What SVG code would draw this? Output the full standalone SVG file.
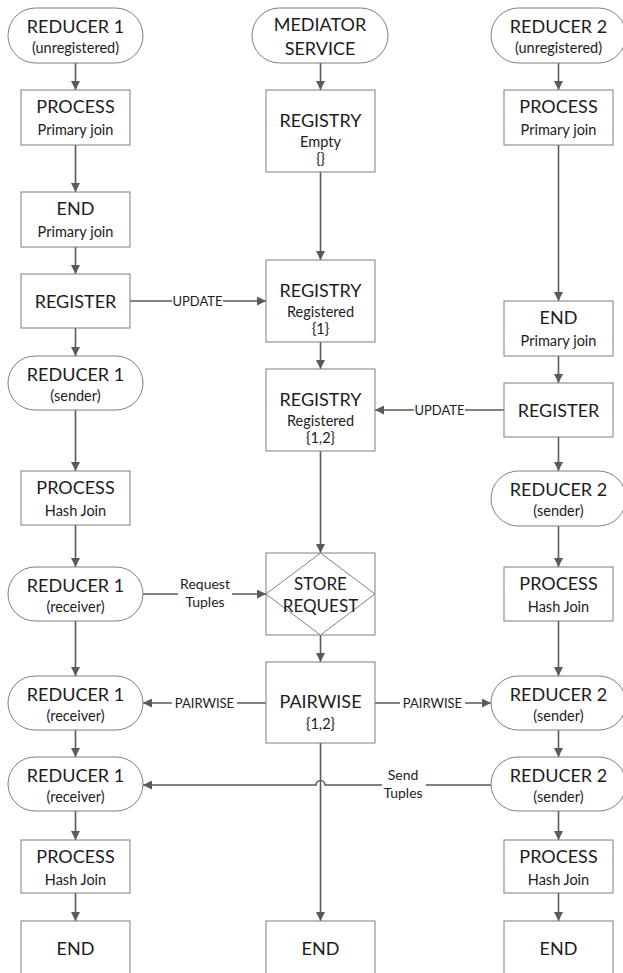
<svg xmlns="http://www.w3.org/2000/svg" width="623" height="973" viewBox="0 0 623 973">
  <defs>
    <marker id="arr" viewBox="0 0 10 10" refX="10" refY="5" markerWidth="9" markerHeight="9" markerUnits="userSpaceOnUse" orient="auto">
      <path d="M0,0 L10,5 L0,10 z" fill="#5a5a5a"/>
    </marker>
    <style>
      .box { fill: #ffffff; stroke: #7f7f7f; stroke-width: 1; }
      .t { font-family: Lato, "Open Sans", "DejaVu Sans", sans-serif; fill: #1c1c1c; text-anchor: middle; }
      .big { font-size: 18px; }
      .mid { font-size: 17px; }
      .sm { font-size: 14.5px; }
      .lbl { font-size: 13px; }
      .lbl2 { font-size: 14px; }
      .conn { fill: none; stroke: #5a5a5a; stroke-width: 1.6; marker-end: url(#arr); }
      .bg { fill: #ffffff; stroke: none; }
    </style>
  </defs>
  <rect x="0" y="0" width="623" height="973" fill="#ffffff"/>

  <!-- connectors -->
  <g id="connectors">
    <!-- reducer 1 column -->
    <path class="conn" d="M75.5,63 V90"/>
    <path class="conn" d="M75.5,145 V192"/>
    <path class="conn" d="M75.5,247 V274"/>
    <path class="conn" d="M75.5,328 V356"/>
    <path class="conn" d="M75.5,410 V471"/>
    <path class="conn" d="M75.5,525 V567"/>
    <path class="conn" d="M75.5,621 V676"/>
    <path class="conn" d="M75.5,730 V757"/>
    <path class="conn" d="M75.5,811 V840"/>
    <path class="conn" d="M75.5,893 V921"/>
    <!-- mediator column -->
    <path class="conn" d="M320.5,63 V90"/>
    <path class="conn" d="M320.5,172 V260"/>
    <path class="conn" d="M320.5,342 V369"/>
    <path class="conn" d="M320.5,451 V553"/>
    <path class="conn" d="M320.5,635 V662"/>
    <path class="conn" d="M320.5,743 V921"/>
    <!-- reducer 2 column -->
    <path class="conn" d="M558.5,63 V90"/>
    <path class="conn" d="M558.5,145 V301"/>
    <path class="conn" d="M558.5,356 V383"/>
    <path class="conn" d="M558.5,437 V471"/>
    <path class="conn" d="M558.5,526 V567"/>
    <path class="conn" d="M558.5,621 V676"/>
    <path class="conn" d="M558.5,730 V757"/>
    <path class="conn" d="M558.5,811 V840"/>
    <path class="conn" d="M558.5,893 V921"/>
    <!-- cross-column messages -->
    <path class="conn" d="M130,301 H266"/>
    <path class="conn" d="M504,410 H375"/>
    <path class="conn" d="M143,594 H266"/>
    <path class="conn" d="M266,703 H143"/>
    <path class="conn" d="M375,703 H491"/>
    <path class="conn" d="M491,785 H325 A4.5,4.5 0 0 0 316,785 H143"/>

    <!-- connector labels -->
    <rect class="bg" x="172" y="294" width="51" height="14"/>
    <text class="t lbl" x="197.5" y="306">UPDATE</text>
    <rect class="bg" x="414" y="403" width="51" height="14"/>
    <text class="t lbl" x="439.5" y="415">UPDATE</text>
    <rect class="bg" x="178" y="577" width="54" height="33"/>
    <text class="t lbl2" x="205" y="589">Request</text>
    <text class="t lbl2" x="205" y="607">Tuples</text>
    <rect class="bg" x="172" y="696" width="65" height="14"/>
    <text class="t lbl" x="204.5" y="708">PAIRWISE</text>
    <rect class="bg" x="400" y="696" width="65" height="14"/>
    <text class="t lbl" x="432.5" y="708">PAIRWISE</text>
    <rect class="bg" x="382" y="767" width="44" height="34"/>
    <text class="t lbl2" x="403" y="780">Send</text>
    <text class="t lbl2" x="403" y="798">Tuples</text>
  </g>

  <!-- reducer 1 -->
  <g id="r1-start">
    <rect class="box" x="8" y="8" width="135" height="55" rx="27.5" ry="27.5"/>
    <text class="t big" x="75.5" y="33">REDUCER 1</text>
    <text class="t sm" x="75.5" y="53">(unregistered)</text>
  </g>
  <g id="r1-process-primary">
    <rect class="box" x="21" y="90" width="109" height="55"/>
    <text class="t big" x="75.5" y="113">PROCESS</text>
    <text class="t sm" x="75.5" y="135">Primary join</text>
  </g>
  <g id="r1-end-primary">
    <rect class="box" x="21" y="192" width="109" height="55"/>
    <text class="t big" x="75.5" y="215">END</text>
    <text class="t sm" x="75.5" y="237">Primary join</text>
  </g>
  <g id="r1-register">
    <rect class="box" x="21" y="274" width="109" height="54"/>
    <text class="t big" x="75.5" y="308">REGISTER</text>
  </g>
  <g id="r1-sender">
    <rect class="box" x="8" y="356" width="135" height="54" rx="27" ry="27"/>
    <text class="t big" x="75.5" y="381">REDUCER 1</text>
    <text class="t sm" x="75.5" y="401">(sender)</text>
  </g>
  <g id="r1-process-hash-1">
    <rect class="box" x="21" y="471" width="109" height="54"/>
    <text class="t big" x="75.5" y="494">PROCESS</text>
    <text class="t sm" x="75.5" y="516">Hash Join</text>
  </g>
  <g id="r1-receiver-1">
    <rect class="box" x="8" y="567" width="135" height="54" rx="27" ry="27"/>
    <text class="t big" x="75.5" y="592">REDUCER 1</text>
    <text class="t sm" x="75.5" y="612">(receiver)</text>
  </g>
  <g id="r1-receiver-2">
    <rect class="box" x="8" y="676" width="135" height="54" rx="27" ry="27"/>
    <text class="t big" x="75.5" y="701">REDUCER 1</text>
    <text class="t sm" x="75.5" y="721">(receiver)</text>
  </g>
  <g id="r1-receiver-3">
    <rect class="box" x="8" y="757" width="135" height="54" rx="27" ry="27"/>
    <text class="t big" x="75.5" y="782">REDUCER 1</text>
    <text class="t sm" x="75.5" y="802">(receiver)</text>
  </g>
  <g id="r1-process-hash-2">
    <rect class="box" x="21" y="840" width="109" height="53"/>
    <text class="t big" x="75.5" y="863">PROCESS</text>
    <text class="t sm" x="75.5" y="885">Hash Join</text>
  </g>
  <g id="r1-end">
    <rect class="box" x="21" y="921" width="109" height="55"/>
    <text class="t big" x="75.5" y="955">END</text>
  </g>

  <!-- mediator -->
  <g id="mediator-start">
    <rect class="box" x="252" y="8" width="136" height="55" rx="27.5" ry="27.5"/>
    <text class="t big" x="320" y="31">MEDIATOR</text>
    <text class="t big" x="320" y="55">SERVICE</text>
  </g>
  <g id="registry-empty">
    <rect class="box" x="266" y="90" width="109" height="82"/>
    <text class="t big" x="320.5" y="127">REGISTRY</text>
    <text class="t sm" x="320.5" y="147">Empty</text>
    <text class="t sm" x="320.5" y="164">{}</text>
  </g>
  <g id="registry-1">
    <rect class="box" x="266" y="260" width="109" height="82"/>
    <text class="t big" x="320.5" y="297">REGISTRY</text>
    <text class="t sm" x="320.5" y="317">Registered</text>
    <text class="t sm" x="320.5" y="334">{1}</text>
  </g>
  <g id="registry-12">
    <rect class="box" x="266" y="369" width="109" height="82"/>
    <text class="t big" x="320.5" y="406">REGISTRY</text>
    <text class="t sm" x="320.5" y="426">Registered</text>
    <text class="t sm" x="320.5" y="443">{1,2}</text>
  </g>
  <g id="store-request">
    <rect class="box" x="266" y="553" width="109" height="82"/>
    <polygon class="box" points="320.5,553 375,594 320.5,635 266,594"/>
    <text class="t mid" x="320.5" y="590">STORE</text>
    <text class="t mid" x="320.5" y="612">REQUEST</text>
  </g>
  <g id="pairwise">
    <rect class="box" x="266" y="662" width="109" height="81"/>
    <text class="t big" x="320.5" y="708">PAIRWISE</text>
    <text class="t sm" x="320.5" y="729">{1,2}</text>
  </g>
  <g id="mediator-end">
    <rect class="box" x="266" y="921" width="109" height="55"/>
    <text class="t big" x="320.5" y="955">END</text>
  </g>

  <!-- reducer 2 -->
  <g id="r2-start">
    <rect class="box" x="491" y="8" width="135" height="55" rx="27.5" ry="27.5"/>
    <text class="t big" x="558.5" y="33">REDUCER 2</text>
    <text class="t sm" x="558.5" y="53">(unregistered)</text>
  </g>
  <g id="r2-process-primary">
    <rect class="box" x="504" y="90" width="109" height="55"/>
    <text class="t big" x="558.5" y="113">PROCESS</text>
    <text class="t sm" x="558.5" y="135">Primary join</text>
  </g>
  <g id="r2-end-primary">
    <rect class="box" x="504" y="301" width="109" height="55"/>
    <text class="t big" x="558.5" y="324">END</text>
    <text class="t sm" x="558.5" y="346">Primary join</text>
  </g>
  <g id="r2-register">
    <rect class="box" x="504" y="383" width="109" height="54"/>
    <text class="t big" x="558.5" y="417">REGISTER</text>
  </g>
  <g id="r2-sender-1">
    <rect class="box" x="491" y="471" width="135" height="55" rx="27.5" ry="27.5"/>
    <text class="t big" x="558.5" y="496">REDUCER 2</text>
    <text class="t sm" x="558.5" y="516">(sender)</text>
  </g>
  <g id="r2-process-hash-1">
    <rect class="box" x="504" y="567" width="109" height="54"/>
    <text class="t big" x="558.5" y="590">PROCESS</text>
    <text class="t sm" x="558.5" y="612">Hash Join</text>
  </g>
  <g id="r2-sender-2">
    <rect class="box" x="491" y="676" width="135" height="54" rx="27" ry="27"/>
    <text class="t big" x="558.5" y="701">REDUCER 2</text>
    <text class="t sm" x="558.5" y="721">(sender)</text>
  </g>
  <g id="r2-sender-3">
    <rect class="box" x="491" y="757" width="135" height="54" rx="27" ry="27"/>
    <text class="t big" x="558.5" y="782">REDUCER 2</text>
    <text class="t sm" x="558.5" y="802">(sender)</text>
  </g>
  <g id="r2-process-hash-2">
    <rect class="box" x="504" y="840" width="109" height="53"/>
    <text class="t big" x="558.5" y="863">PROCESS</text>
    <text class="t sm" x="558.5" y="885">Hash Join</text>
  </g>
  <g id="r2-end">
    <rect class="box" x="504" y="921" width="109" height="55"/>
    <text class="t big" x="558.5" y="955">END</text>
  </g>
</svg>
